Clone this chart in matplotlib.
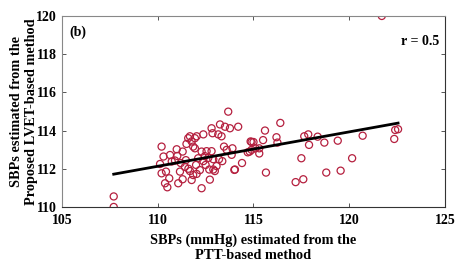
import numpy as np
import matplotlib
matplotlib.use("Agg")
import matplotlib.pyplot as plt

# SBP estimated from PTT-based method (x) and proposed LVET-based method (y)
x_ptt = [107.7, 107.7,
         110.2, 110.12, 110.3, 110.2, 110.43, 110.38, 110.5, 110.64, 110.73, 110.9,
         110.99, 111.02, 111.07, 111.16, 111.3, 111.42, 111.47, 111.5, 111.59, 111.68,
         111.77, 111.85, 111.94, 112.03, 111.94, 111.68, 111.77, 111.85, 112.03, 112.11,
         112.2, 112.29, 112.29, 112.38, 112.38, 112.46, 112.55, 112.64, 112.69, 112.72,
         112.81, 112.81, 112.86, 112.9, 112.98, 113.07, 113.16, 113.25, 113.33, 113.37,
         113.46, 113.51, 113.6, 113.68, 113.77, 113.86, 113.9, 114.03, 114.2, 114.4,
         114.7, 114.85, 114.9, 115.1,
         114.9, 114.8, 115.3, 115.3, 115.5, 115.6, 115.65, 116.2, 116.25, 116.4,
         117.2, 117.5, 117.6, 117.65, 117.86, 117.9, 118.35, 118.7, 118.8, 119.4,
         119.55, 120.15, 120.7, 122.35, 122.4, 122.55, 121.7,
         111.2, 111.6, 112.0, 112.5, 112.9, 113.2, 111.3, 110.6, 114.0, 115.0]
y_lvet = [110.55, 110.0,
          113.16, 112.25, 112.64, 111.76, 111.85, 111.24, 111.03, 112.72, 112.38, 112.43,
          113.02, 112.67, 111.24, 111.85, 111.45, 112.1, 112.45, 113.3, 113.6, 113.7,
          113.43, 113.16, 113.6, 113.7, 113.07, 111.88, 111.41, 111.67, 111.73, 112.55,
          111.93, 112.9, 110.98, 113.8, 112.4, 112.66, 112.92, 112.57, 111.96, 111.43,
          114.12, 112.92, 113.86, 111.96, 111.88, 112.14, 113.8, 114.32, 113.7, 112.4,
          113.16, 114.2, 112.99, 114.99, 114.12, 112.73, 113.07, 111.96, 114.2, 112.3,
          112.86, 113.43, 112.99, 113.07,
          113.4, 112.9, 113.07, 112.8, 113.5, 114.0, 111.8, 113.65, 113.37, 114.4,
          111.3, 112.55, 111.45, 113.7, 113.8, 113.25, 113.68, 113.37, 111.8, 113.47,
          111.9, 112.55, 113.73, 113.56, 114.03, 114.07, 120.0,
          112.3, 112.0, 112.2, 112.2, 112.5, 112.5, 112.9, 111.5, 111.94, 113.4]

x_ticks = [105, 110, 115, 120, 125]
y_ticks = [110, 112, 114, 116, 118, 120]
r_text = "r = 0.5"
panel = "(b)"

plt.rcParams['font.family'] = ['Liberation Serif', 'DejaVu Serif']
plt.rcParams['font.weight'] = 'bold'

fig = plt.figure(figsize=(4.57, 2.66), dpi=100)
ax = fig.add_axes([0.1357, 0.222, 0.838, 0.718])

x = np.array(x_ptt)
y = np.array(y_lvet)
ax.scatter(x, y, s=26, facecolors='none', edgecolors='#B5203F', linewidths=0.9, zorder=2)

coef = np.polyfit(x, y, 1)
xl = np.array([x.min(), x.max()])
ax.plot(xl, np.polyval(coef, xl), color='black', lw=2, zorder=3)

ax.set_xlim(105, 125)
ax.set_ylim(110, 120)
ax.set_xticks(x_ticks)
ax.set_yticks(y_ticks)
ax.tick_params(direction='in', top=True, right=True, labelsize=10, length=3,
               color='#555555', width=0.7)
ax.tick_params(axis='x', pad=5)
for lab in ax.get_xticklabels() + ax.get_yticklabels():
    lab.set_fontweight('bold')
for s in ['left', 'top']:
    ax.spines[s].set_color('#888888')
for s in ['bottom', 'right']:
    ax.spines[s].set_color('#333333')
for s in ax.spines.values():
    s.set_linewidth(0.8)

ax.set_xlabel("SBPs (mmHg) estimated from the\nPTT-based method", fontsize=10.3,
              fontweight='bold', linespacing=1.15, labelpad=5)
ax.set_ylabel("SBPs estimated from the\nProposed LVET-based method", fontsize=10.3,
              fontweight='bold', linespacing=1.2, labelpad=-1)

ax.text(0.02, 0.95, panel, transform=ax.transAxes, fontsize=10, fontweight='bold',
        va='top', ha='left')
ax.text(0.985, 0.865, r_text, transform=ax.transAxes, fontsize=10, fontweight='bold',
        va='center', ha='right')

fig.savefig("out.png", dpi=100)
